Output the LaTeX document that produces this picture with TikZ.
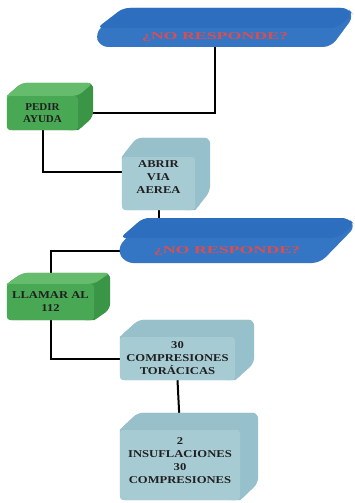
\documentclass[tikz,border=0pt]{standalone}
\usepackage{fontspec}
\setmainfont{Liberation Serif}
\newfontfamily\boxfont[FakeStretch=1.2]{Liberation Serif}
\newfontfamily\pfont[FakeStretch=1.05]{Liberation Serif}
\newfontfamily\slabfont[FakeStretch=1.7]{Liberation Serif}
\pgfdeclarelayer{bg}
\pgfdeclarelayer{lines}
\pgfdeclarelayer{faces}
\pgfsetlayers{bg,lines,faces,main}
\definecolor{greenF}{RGB}{72,168,84}
\definecolor{greenT}{RGB}{100,188,108}
\definecolor{greenS}{RGB}{58,150,70}
\definecolor{lbF}{RGB}{166,203,211}
\definecolor{lbT}{RGB}{152,192,202}
\definecolor{lbS}{RGB}{150,192,203}
\definecolor{slabF}{RGB}{52,118,196}
\definecolor{slabT}{RGB}{46,110,190}
\definecolor{slabtext}{RGB}{218,78,82}
\definecolor{boxtext}{RGB}{32,32,32}
\tikzset{
  front/.style={rectangle, rounded corners=3pt, inner sep=0pt, align=center, text=boxtext},
  greenfront/.style={front, fill=greenF},
  bluefront/.style={front, fill=lbF},
  txt/.style={font=\boxfont\bfseries\fontsize{10.5}{13}\selectfont},
  slabnode/.style={rectangle, inner sep=0pt, text=slabtext, font=\slabfont\bfseries\fontsize{10.5}{12}\selectfont},
  link/.style={line width=2pt, black},
}
\newcommand\cubefaces[4]{%
  \begin{pgfonlayer}{faces}
  \fill[#4S, rounded corners=6pt] (#1.north west) -- ([shift={(#2,-#3)}]#1.north west) -- ([shift={(#2,-#3)}]#1.north east) -- ([shift={(#2,-#3)}]#1.south east) -- (#1.south east) -- (#1.south west) -- cycle;
  \fill[#4T, rounded corners=5pt] (#1.north west) -- ([shift={(#2,-#3)}]#1.north west) -- ([shift={(#2,-#3)}]#1.north east) -- (#1.north east) -- cycle;
  \fill[#4T] ([yshift=-5pt]#1.north west) -- (#1.north west) -- ([shift={({0.3*#2},{-0.3*#3})}]#1.north west) -- ([xshift=9pt]#1.north west) -- cycle;
  \fill[#4S] ([xshift=-9pt]#1.south east) -- (#1.south east) -- ([shift={({0.3*#2},{-0.3*#3})}]#1.south east) -- ([yshift=8pt]#1.south east) -- cycle;
  \end{pgfonlayer}}
\begin{document}
\begin{tikzpicture}[x=1pt,y=-1pt]
\begin{pgfonlayer}{bg}
\fill[white] (0,0) rectangle (355,503);
\end{pgfonlayer}
\useasboundingbox (0,0) rectangle (355,503);
% slabs
\begin{pgfonlayer}{faces}
\fill[slabF, rounded corners=8pt] (123,8) -- (348,8) -- (354,16) -- (331,47) -- (100,47) -- (95,33) -- cycle;
\fill[slabT, rounded corners=6pt] (123,8) -- (348,8) -- (352,15) -- (337,28) -- (97,28) -- cycle;
\fill[slabF, rounded corners=8pt] (143,218) -- (348,218) -- (356,226) -- (320,263) -- (125,263) -- (117,249) -- cycle;
\fill[slabT, rounded corners=6pt] (143,218) -- (348,218) -- (354,225) -- (337,238) -- (120,238) -- cycle;
\end{pgfonlayer}
\node[slabnode, minimum width=220pt, minimum height=19pt] (s1) at (215,37.5) {¿NO RESPONDE?};
\node[slabnode, minimum width=200pt, minimum height=25pt] (s2) at (227,251) {¿NO RESPONDE?};
% boxes
\node[greenfront, minimum width=71pt, minimum height=34pt, font=\pfont\bfseries\fontsize{10.5}{12}\selectfont] (p) at (42.5,113) {PEDIR\\AYUDA};
\cubefaces{p}{15}{13}{green}
\node[bluefront, txt, minimum width=73pt, minimum height=53pt, text depth=12pt] (a) at (158.5,183.5) {ABRIR\\VIA\\AEREA};
\cubefaces{a}{15}{19}{lb}
\node[greenfront, txt, minimum width=87pt, minimum height=36pt] (l) at (50.5,302) {LLAMAR AL\\112};
\cubefaces{l}{16}{11}{green}
\node[bluefront, txt, minimum width=115pt, minimum height=43pt] (c) at (177.5,358.5) {30\\COMPRESIONES\\TORÁCICAS};
\cubefaces{c}{19}{17}{lb}
\node[bluefront, txt, minimum width=120pt, minimum height=70pt, text depth=8pt] (i) at (180,465) {2\\INSUFLACIONES\\30\\COMPRESIONES};
\cubefaces{i}{18}{17}{lb}
% connectors
\begin{pgfonlayer}{lines}
\draw[link] (s1.center) |- (p.east);
\draw[link] (p.south) |- ([yshift=11.5pt]a.west);
\draw[link] (a.south) -- (a.south |- s2.center);
\draw[link] (s2.center) -| (l.north);
\draw[link] (l.south) |- (c.west);
\draw[link] (c.south) -- (i.north);
\end{pgfonlayer}
\end{tikzpicture}
\end{document}
